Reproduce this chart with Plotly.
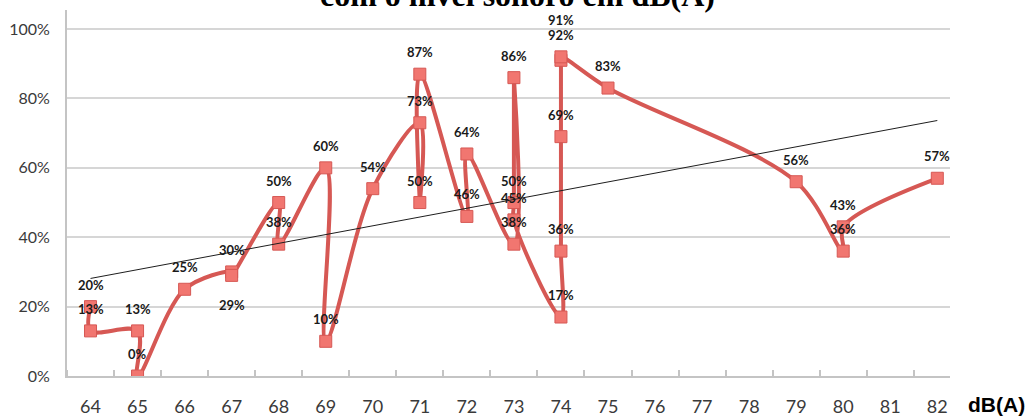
import numpy as np
import plotly.graph_objects as go

# Measurements in recording order: sound level (dB(A)) and share (%)
x_db = [64, 64, 65, 65, 66, 67, 67, 68, 68, 69, 69, 70, 71, 71, 71, 72, 72,
        73, 73, 73, 73, 74, 74, 74, 74, 74, 75, 79, 80, 80, 82]
pct = [20, 13, 13, 0, 25, 30, 29, 50, 38, 60, 10, 54, 73, 50, 87, 46, 64,
       38, 86, 50, 45, 17, 36, 69, 91, 92, 83, 56, 36, 43, 57]

x_ticks = list(range(64, 83))
y_ticks = [0, 20, 40, 60, 80, 100]

title_text = "com o nível sonoro em dB(A)"
x_title = "dB(A)"

# label placement (pixels above the marker); a few labels sit elsewhere
label_dy = [22] * len(pct)
label_dy[6] = -30   # 29% label under the marker
label_dy[24] = 40   # 91% label lifted above the 92% one

share = [v / 100 for v in pct]

# least-squares linear trend over the measurements
slope, intercept = np.polyfit(x_db, share, 1)
trend_x = [min(x_db), max(x_db)]
trend_y = [slope * v + intercept for v in trend_x]

LINE_RED = "rgb(214,88,84)"
FILL_RED = "rgb(241,118,112)"
GRID = "#d6d6d6"
AXIS = "#c4c4c4"

fig = go.Figure()

fig.add_trace(go.Scatter(
    x=x_db, y=share, mode="lines+markers",
    line=dict(color=LINE_RED, width=4, shape="spline", smoothing=1.0),
    marker=dict(symbol="square", size=12, color=FILL_RED,
                line=dict(color=LINE_RED, width=1)),
    hoverinfo="skip", showlegend=False,
))

fig.add_trace(go.Scatter(
    x=trend_x, y=trend_y, mode="lines",
    line=dict(color="#1e1e1e", width=1),
    hoverinfo="skip", showlegend=False,
))

annotations = []
for xv, yv, v, dy in zip(x_db, share, pct, label_dy):
    annotations.append(dict(
        x=xv, y=yv, xref="x", yref="y", text=f"{v}%", showarrow=False,
        yshift=dy, xanchor="center", yanchor="middle",
        font=dict(family="Lato", size=13, color="#1a1a1a", weight="bold"),
    ))

annotations.append(dict(
    x=0.51, y=0.985, xref="paper", yref="paper", text=f"<b>{title_text}</b>",
    showarrow=False, xanchor="center", yanchor="bottom",
    font=dict(family="Liberation Serif", size=32, color="#000000"),
))
annotations.append(dict(
    x=1.0527, y=-0.079, xref="paper", yref="paper", text=f"<b>{x_title}</b>",
    showarrow=False, xanchor="center", yanchor="middle",
    font=dict(family="Liberation Sans", size=21, color="#000000"),
))

fig.update_layout(
    width=1032, height=420,
    margin=dict(l=67, r=82, t=10, b=44, autoexpand=False),
    paper_bgcolor="white", plot_bgcolor="white",
    annotations=annotations,
    xaxis=dict(
        range=[63.5, 82.27], tickmode="array", tickvals=x_ticks,
        ticktext=[str(v) for v in x_ticks], ticks="", automargin=False,
        showgrid=False, zeroline=False,
        showline=True, linecolor=AXIS, linewidth=2,
        tickfont=dict(family="Lato", size=18, color="#3a3a3a"),
        ticklabelstandoff=13,
        minor=dict(tick0=63.5, dtick=1, ticks="inside", ticklen=6,
                   tickcolor=AXIS, tickwidth=2, showgrid=False),
    ),
    xaxis2=dict(
        overlaying="x", matches="x", anchor="y", side="bottom",
        range=[63.5, 82.27], tickmode="linear", tick0=63.5, dtick=1,
        ticks="outside", ticklen=5, tickcolor=AXIS, tickwidth=2,
        automargin=False,
        showticklabels=False, showgrid=False, zeroline=False, showline=False,
    ),
    yaxis=dict(
        range=[0, 1.055], tickmode="array", tickvals=[t / 100 for t in y_ticks],
        ticktext=[f"{t}%" for t in y_ticks], ticks="", automargin=False,
        showgrid=True, gridcolor=GRID, gridwidth=1.5, zeroline=False,
        showline=True, linecolor=AXIS, linewidth=2,
        tickfont=dict(family="Lato", size=16, color="#3a3a3a"),
        ticklabelstandoff=12,
    ),
)

fig.write_html("out.html")
